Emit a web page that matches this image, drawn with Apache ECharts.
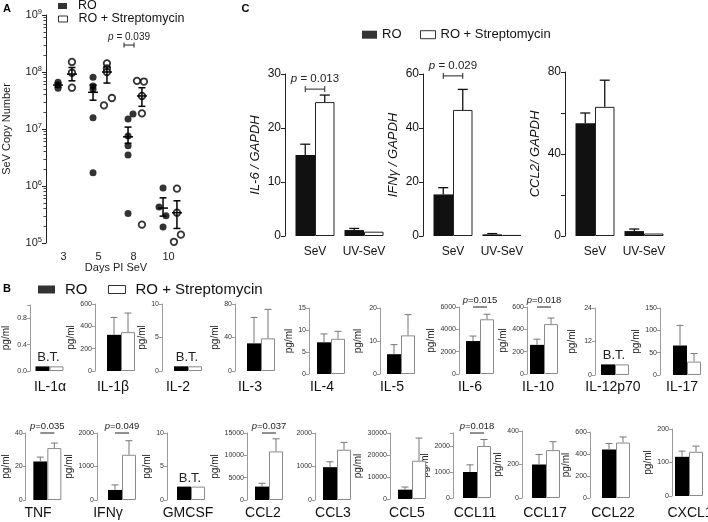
<!DOCTYPE html>
<html><head><meta charset="utf-8">
<script src="https://cdn.jsdelivr.net/npm/echarts@6/dist/echarts.min.js"></script>
<style>html,body{margin:0;padding:0;background:#fff}#c{width:708px;height:522px}</style>
</head><body><div id="c"></div>
<script>
const FONT = 'Liberation Sans, Arial, Helvetica, sans-serif';

// ---------------- Panel A data ----------------
const daysA = ['3', '5', '8', '10'];
const roPointsA = [
  [6.6e7, 5.9e7, 5.2e7],
  [8.1e7, 5.7e7, 5.0e7, 1.58e7, 1.71e6],
  [1.5e7, 1.83e7, 7.5e6, 5.1e6, 3.5e6, 3.3e5],
  [4.3e5, 9.2e5, 3.0e5, 1.9e5]
];
const stPointsA = [
  [1.5e8, 9.7e7, 5.3e7],
  [1.42e8, 1.16e8, 1.0e8, 2.6e7, 3.5e7],
  [7.0e7, 6.8e7, 3.8e7, 1.88e7, 2.1e5],
  [9.0e5, 3.4e5, 1.05e5, 1.4e5]
];
const roMeanA = [5.9e7, 4.4e7, 7.3e6, 4.1e5];
const roLoA   = [5.4e7, 3.2e7, 5.6e6, 2.96e5];
const roHiA   = [6.4e7, 5.9e7, 1.08e7, 6.2e5];
const stMeanA = [9.2e7, 1.0e8, 3.8e7, 3.4e5];
const stLoA   = [7.0e7, 6.4e7, 2.5e7, 1.8e5];
const stHiA   = [1.2e8, 1.23e8, 5.3e7, 5.5e5];
const decadesA = [1e5, 1e6, 1e7, 1e8, 1e9];
const pTextA = ' = 0.039';
const pLevelA = 2.97e8;

// ---------------- Panel C data ----------------
const cCategories = ['SeV', 'UV-SeV'];
const cNames = ['IL-6 / GAPDH', 'IFNγ / GAPDH', 'CCL2/ GAPDH'];
const cRO    = [[15, 1.1], [15.4, 0.6], [55, 2.4]];
const cROErr = [[17, 1.4], [17.9, 0.9], [60, 3.4]];
const cST    = [[24.8, 0.8], [46.7, 0.4], [63, 1.2]];
const cSTErr = [[26.1, null], [54.3, null], [76, null]];
const cMax   = [30, 60, 80];
const cStep  = [10, 20, 20];
const cLabelStep = [10, 20, 40];
const cP     = [' = 0.013', ' = 0.029', ''];
const cPLevel = [27.2, 59.3, null];

// ---------------- Panel B data ----------------
const cytokines = ['IL-1α','IL-1β','IL-2','IL-3','IL-4','IL-5','IL-6','IL-10','IL-12p70','IL-17',
                   'TNF','IFNγ','GMCSF','CCL2','CCL3','CCL5','CCL11','CCL17','CCL22','CXCL1'];
const roB    = [0.07, 324, 0.7, 33, 7.2, 6.0, 2950, 261, 3.8, 66, 23, 300, 2.0, 3000, 980, 4240, 1000, 200, 441, 117];
const roErrB = [null, 480, null, 64, 9.1, 8.9, 3400, 312, null, 111, 25.6, 450, null, 3750, 1140, 5450, 1275, 260, 495, 134];
const stB    = [0.07, 348, 0.7, 39, 8.0, 11.7, 4900, 447, 3.8, 30, 31, 1350, 2.0, 10875, 1500, 17400, 2000, 286, 504, 132];
const stErrB = [null, 519, null, 73.6, 9.7, 18.0, 5350, 501, null, 48, 34, 1770, null, 13700, 1720, 27700, 2250, 336, 555, 149];
const bMax   = [1.0, 600, 10, 80, 15, 20, 6000, 600, 24, 150, 40, 2000, 10, 15000, 2000, 30000, 2500, 400, 600, 200];
const bStep  = [0.4, 200, 5, 40, 5, 10, 2000, 200, 12, 50, 20, 1000, 5, 5000, 1000, 10000, 1000, 200, 200, 100];
const bBelowThreshold = [true,false,true,false,false,false,false,false,true,false,
                         false,false,true,false,false,false,false,false,false,false];
const bP = ['','','','','','','=0.015','=0.018','','', '=0.035','=0.049','','=0.037','','','=0.018','','',''];
const bUnit = 'pg/ml';
const legendNames = ['RO', 'RO + Streptomycin'];

// ---------------- layout (positions/styles only) ----------------
const A_GRID = {left: 45, top: 15, width: 141, height: 228};
const PX_A = A_GRID.width / 4;
const RO_OFF_PX = -5.5, ST_OFF_PX = 8.5;
const roJitPx = [[0,0,0],[0,0,0,0,0],[0,5,0,0,0,0],[-4,0,3,0]];
const stJitPx = [[0,0,0],[0,0,0,-3,5],[-5,2,0,0,0],[0,0,-3,4]];
const cAxisX = [285, 423, 565];
const cTopY = [74, 74, 72];
const cBottomY = 236;
const bAxisX   = [30,95,162,235,309,380,459,527,595,660, 25,97,167,247,315,390,453,522,590,672];
const bCenterX = [49.5,121,188,261,331,401,480,544,615,687, 47,122,191,269,337,412,477,546,616,689];
const bTopY    = [305,304,304,304,308,308,307,307,308,308, 433,433,433,433,433,433,433,431,432,429];
const bBotY    = [371,371,371,371,374,374,374,374,375,375, 500,500,500,500,500,499,498,498,498,496];
const bUnitDist= [24,20,14,12,19,22,27,22,23,15, 18,24,19,28,0,32,21,19,17,17];
const bLabelX  = [50,113,178,250,322,392,470,538,613,682, 38,108,188,263,333,407,475,545,613,690];
const bLabelY  = [387, 513];

function isStep(v, step) { const r = v / step; return Math.abs(r - Math.round(r)) < 1e-6; }

function errRenderer(barW, cap, color, lw) {
  return function (params, api) {
    const p0 = api.coord([api.value(0), api.value(1)]);
    const p1 = api.coord([api.value(0), api.value(2)]);
    const x = p0[0] + api.value(3) * barW / 2;
    const st = {stroke: color, lineWidth: lw, fill: null};
    return {type: 'group', children: [
      {type: 'line', shape: {x1: x, y1: p0[1], x2: x, y2: p1[1]}, style: st},
      {type: 'line', shape: {x1: x - cap, y1: p1[1], x2: x + cap, y2: p1[1]}, style: st}
    ]};
  };
}
function semRenderer(meanHalf, cap, color, lw) {
  return function (params, api) {
    const x = api.value(0);
    const pm = api.coord([x, api.value(1)]);
    const pl = api.coord([x, api.value(2)]);
    const ph = api.coord([x, api.value(3)]);
    const st = {stroke: color, lineWidth: lw, fill: null};
    return {type: 'group', children: [
      {type: 'line', shape: {x1: pm[0], y1: pl[1], x2: pm[0], y2: ph[1]}, style: st},
      {type: 'line', shape: {x1: pm[0] - cap, y1: pl[1], x2: pm[0] + cap, y2: pl[1]}, style: st},
      {type: 'line', shape: {x1: pm[0] - cap, y1: ph[1], x2: pm[0] + cap, y2: ph[1]}, style: st},
      {type: 'line', shape: {x1: pm[0] - meanHalf, y1: pm[1], x2: pm[0] + meanHalf, y2: pm[1]}, style: st}
    ]};
  };
}
function pRenderer(text, span, endTick, fontSize, gap, lw) {
  return function (params, api) {
    const p = api.coord([api.value(0), api.value(1)]);
    const x1 = p[0] - span / 2, x2 = p[0] + span / 2, y = p[1];
    const st = {stroke: '#222', lineWidth: lw, fill: null};
    const ch = [{type: 'line', shape: {x1: x1, y1: y, x2: x2, y2: y}, style: st}];
    if (endTick) {
      ch.push({type: 'line', shape: {x1: x1, y1: y - endTick, x2: x1, y2: y + endTick}, style: st});
      ch.push({type: 'line', shape: {x1: x2, y1: y - endTick, x2: x2, y2: y + endTick}, style: st});
    }
    ch.push({type: 'text', style: {
      text: '{i|p}' + text,
      rich: {i: {fontStyle: 'italic', fontSize: fontSize, fontFamily: FONT, fill: '#222'}},
      x: (x1 + x2) / 2, y: y - gap, fontSize: fontSize, fontFamily: FONT, fill: '#222',
      align: 'center', verticalAlign: 'bottom', textAlign: 'center', textVerticalAlign: 'bottom'}});
    return {type: 'group', children: ch};
  };
}

const option = {animation: false, textStyle: {fontFamily: FONT}, grid: [], xAxis: [], yAxis: [], series: [], legend: [], graphic: []};

// ---------------- Panel A ----------------
option.grid.push(A_GRID);
option.xAxis.push({type: 'value', gridIndex: 0, min: 0, max: 4, show: false, position: 'top'});
option.xAxis.push({type: 'category', gridIndex: 0, data: daysA, boundaryGap: true, position: 'bottom',
  axisLine: {show: false}, axisTick: {show: false},
  axisLabel: {fontSize: 11, color: '#222', margin: 8, interval: 0},
  name: 'Days PI SeV', nameLocation: 'middle', nameGap: 19, nameTextStyle: {fontSize: 11, color: '#222'}});
const minorA = [];
decadesA.slice(0, -1).forEach(d => { for (let m = 2; m <= 9; m++) minorA.push(d * m); });
option.yAxis.push({type: 'log', gridIndex: 0, logBase: 10, min: 1e5, max: 1e9, position: 'left',
  axisLine: {show: true, lineStyle: {color: '#222', width: 1}},
  axisTick: {show: true, length: 4, lineStyle: {color: '#222'}, customValues: decadesA},
  splitLine: {show: false},
  axisLabel: {fontSize: 11, color: '#222', margin: 4, customValues: decadesA,
    formatter: v => '10{s|' + Math.round(Math.log10(v)) + '}',
    rich: {s: {fontSize: 7.5, color: '#222', fontFamily: FONT, padding: [0, 0, 7, 0]}}},
  name: 'SeV Copy Number', nameLocation: 'middle', nameGap: 34, nameTextStyle: {fontSize: 11, color: '#222'}});
// second axis on the same grid, same side, carrying only the minor ticks
option.yAxis.push({type: 'log', gridIndex: 0, logBase: 10, min: 1e5, max: 1e9, position: 'left', offset: 0,
  axisLine: {show: false}, splitLine: {show: false}, axisLabel: {show: false},
  axisTick: {show: true, length: 2.5, lineStyle: {color: '#444'}, customValues: minorA}});

const roScatter = [], stScatter = [], semData = [];
roPointsA.forEach((pts, i) => pts.forEach((v, j) => roScatter.push([i + 0.5 + (RO_OFF_PX + roJitPx[i][j]) / PX_A, v])));
stPointsA.forEach((pts, i) => pts.forEach((v, j) => stScatter.push([i + 0.5 + (ST_OFF_PX + stJitPx[i][j]) / PX_A, v])));
daysA.forEach((d, i) => {
  semData.push([i + 0.5 + RO_OFF_PX / PX_A, roMeanA[i], roLoA[i], roHiA[i]]);
  semData.push([i + 0.5 + ST_OFF_PX / PX_A, stMeanA[i], stLoA[i], stHiA[i]]);
});
option.series.push({type: 'scatter', name: legendNames[0], xAxisIndex: 0, yAxisIndex: 0, data: roScatter,
  symbol: 'circle', symbolSize: 7, itemStyle: {color: '#000'}, z: 3});
option.series.push({type: 'scatter', name: legendNames[1], xAxisIndex: 0, yAxisIndex: 0, data: stScatter,
  symbol: 'circle', symbolSize: 6.5, itemStyle: {color: '#fff', borderColor: '#000', borderWidth: 1.8}, z: 3});
option.series.push({type: 'custom', name: 'A-sem', xAxisIndex: 0, yAxisIndex: 0, data: semData,
  renderItem: semRenderer(5, 3.5, '#000', 1.5), z: 4, silent: true});
option.series.push({type: 'custom', name: 'A-p', xAxisIndex: 0, yAxisIndex: 0,
  data: [[2 + 0.5 + (RO_OFF_PX + 1) / PX_A, pLevelA]],
  renderItem: pRenderer(pTextA, 10, 2.5, 10, 3, 1), z: 4, silent: true});

// ---------------- Panel C ----------------
for (let k = 0; k < 3; k++) {
  const g = option.grid.length;
  const xi = option.xAxis.length, yi = option.yAxis.length;
  option.grid.push({left: cAxisX[k] + 5.5, top: cTopY[k], width: 98, height: cBottomY - cTopY[k]});
  option.xAxis.push({type: 'category', gridIndex: g, data: cCategories, axisLine: {show: false}, axisTick: {show: false},
    axisLabel: {fontSize: 12, color: '#111', margin: 10, interval: 0}});
  const step = cLabelStep[k];
  option.yAxis.push({type: 'value', gridIndex: g, min: 0, max: cMax[k], interval: cStep[k], offset: 5.5,
    axisLine: {show: true, lineStyle: {color: '#222', width: 1}},
    axisTick: {show: true, length: 4, lineStyle: {color: '#222'}},
    axisLabel: {fontSize: 12, color: '#111', margin: 4, formatter: v => isStep(v, step) ? String(v) : ''},
    splitLine: {show: false},
    name: cNames[k], nameLocation: 'middle', nameGap: 23,
    nameTextStyle: {fontSize: 13, fontStyle: 'italic', color: '#111'}});
  option.series.push({type: 'bar', name: legendNames[0], xAxisIndex: xi, yAxisIndex: yi, data: cRO[k],
    barWidth: 19.5, barGap: '0%', itemStyle: {color: '#111'}});
  option.series.push({type: 'bar', name: legendNames[1], xAxisIndex: xi, yAxisIndex: yi, data: cST[k],
    barWidth: 19.5, barGap: '0%', itemStyle: {color: '#fff', borderColor: '#222', borderWidth: 1}});
  const ed = [];
  cCategories.forEach((c, j) => {
    if (cROErr[k][j] != null) ed.push([j, cRO[k][j], cROErr[k][j], -1]);
    if (cSTErr[k][j] != null) ed.push([j, cST[k][j], cSTErr[k][j], 1]);
  });
  option.series.push({type: 'custom', name: 'C-err' + k, xAxisIndex: xi, yAxisIndex: yi, data: ed,
    renderItem: errRenderer(19.5, 5, '#111', 1.3), z: 4, silent: true});
  if (cP[k]) {
    option.series.push({type: 'custom', name: 'C-p' + k, xAxisIndex: xi, yAxisIndex: yi, data: [[0, cPLevel[k]]],
      renderItem: pRenderer(cP[k], 19.5, 3, 11.5, 4, 1), z: 4, silent: true});
  }
}

// ---------------- Panel B ----------------
for (let i = 0; i < cytokines.length; i++) {
  const g = option.grid.length;
  const xi = option.xAxis.length, yi = option.yAxis.length;
  const left = bCenterX[i] - 15;
  option.grid.push({left: left, top: bTopY[i], width: 30, height: bBotY[i] - bTopY[i]});
  option.xAxis.push({type: 'category', gridIndex: g, data: [cytokines[i]], show: false});
  const step = bStep[i];
  const dec = i === 0;
  option.yAxis.push({type: 'value', gridIndex: g, min: 0, max: bMax[i], interval: step, offset: left - bAxisX[i],
    axisLine: {show: true, lineStyle: {color: '#9a9a9a', width: 1}},
    axisTick: {show: true, length: 3, lineStyle: {color: '#9a9a9a'}},
    axisLabel: {fontSize: 7, color: '#333', margin: 3,
      formatter: v => isStep(v, step) ? (dec ? v.toFixed(1) : String(v)) : ''},
    splitLine: {show: false},
    name: bUnitDist[i] ? bUnit : '', nameLocation: 'middle', nameGap: bUnitDist[i] - 5,
    nameTextStyle: {fontSize: 10, color: '#222'}});
  const bt = bBelowThreshold[i];
  option.series.push({type: 'bar', name: legendNames[0], xAxisIndex: xi, yAxisIndex: yi, data: [roB[i]],
    barWidth: 14, barGap: '0%', itemStyle: {color: '#000'},
    label: bt ? {show: true, position: 'top', distance: 2, offset: [6, 0], formatter: 'B.T.', fontSize: 13, color: '#222'} : {show: false}});
  option.series.push({type: 'bar', name: legendNames[1], xAxisIndex: xi, yAxisIndex: yi, data: [stB[i]],
    barWidth: 14, barGap: '0%', itemStyle: {color: '#fff', borderColor: '#8a8a8a', borderWidth: 1}});
  const ed = [];
  if (roErrB[i] != null) ed.push([0, roB[i], roErrB[i], -1]);
  if (stErrB[i] != null) ed.push([0, stB[i], stErrB[i], 1]);
  if (ed.length) option.series.push({type: 'custom', name: 'B-err' + i, xAxisIndex: xi, yAxisIndex: yi, data: ed,
    renderItem: errRenderer(14, 3.5, '#777', 1), z: 4, silent: true});
  if (bP[i]) option.series.push({type: 'custom', name: 'B-p' + i, xAxisIndex: xi, yAxisIndex: yi, data: [[0, bMax[i]]],
    renderItem: pRenderer(bP[i], 14, 0, 9.5, 2, 1), z: 4, silent: true});
  option.graphic.push({type: 'text', x: bLabelX[i], y: bLabelY[i < 10 ? 0 : 1],
    style: {text: cytokines[i], fontSize: 14, fontFamily: FONT, fill: '#111',
      align: 'center', verticalAlign: 'middle', textAlign: 'center', textVerticalAlign: 'middle'}});
}

// ---------------- legends ----------------
const roIcon = {color: '#000', borderWidth: 0};
const stIcon = {color: '#fff', borderColor: '#000', borderWidth: 1};
function leg(name, icon, left, cy, w, h, fs, pad) {
  return {left: left, top: cy - fs * 0.6, padding: 0, selectedMode: false, orient: 'horizontal',
    itemWidth: w, itemHeight: h, icon: 'rect',
    data: [{name: name, icon: 'rect', itemStyle: icon}],
    textStyle: {fontSize: fs, color: '#111', fontFamily: FONT, padding: [0, 0, 0, pad]}};
}
option.legend.push(leg(legendNames[0], roIcon, 58, 7, 9, 6, 12.5, 6));
option.legend.push(leg(legendNames[1], stIcon, 58, 20, 9, 6, 12.5, 6));
option.legend.push(leg(legendNames[0], roIcon, 38, 291, 17, 8, 15, 5));
option.legend.push(leg(legendNames[1], stIcon, 108, 291, 17, 8, 15, 5));
option.legend.push(leg(legendNames[0], roIcon, 362, 36, 15, 8, 13, 0));
option.legend.push(leg(legendNames[1], stIcon, 420, 36, 15, 8, 13, 0));

// ---------------- panel letters ----------------
[['A', 7, 8.5], ['B', 7, 289], ['C', 245.5, 8.5]].forEach(([t, x, y]) => option.graphic.push({
  type: 'text', x: x, y: y,
  style: {text: t, fontSize: 11, fontWeight: 'bold', fontFamily: FONT, fill: '#000',
    align: 'center', verticalAlign: 'middle', textAlign: 'center', textVerticalAlign: 'middle'}}));

const chart = echarts.init(document.getElementById('c'), null, {renderer: 'canvas'});
chart.setOption(option);
</script>
</body></html>
